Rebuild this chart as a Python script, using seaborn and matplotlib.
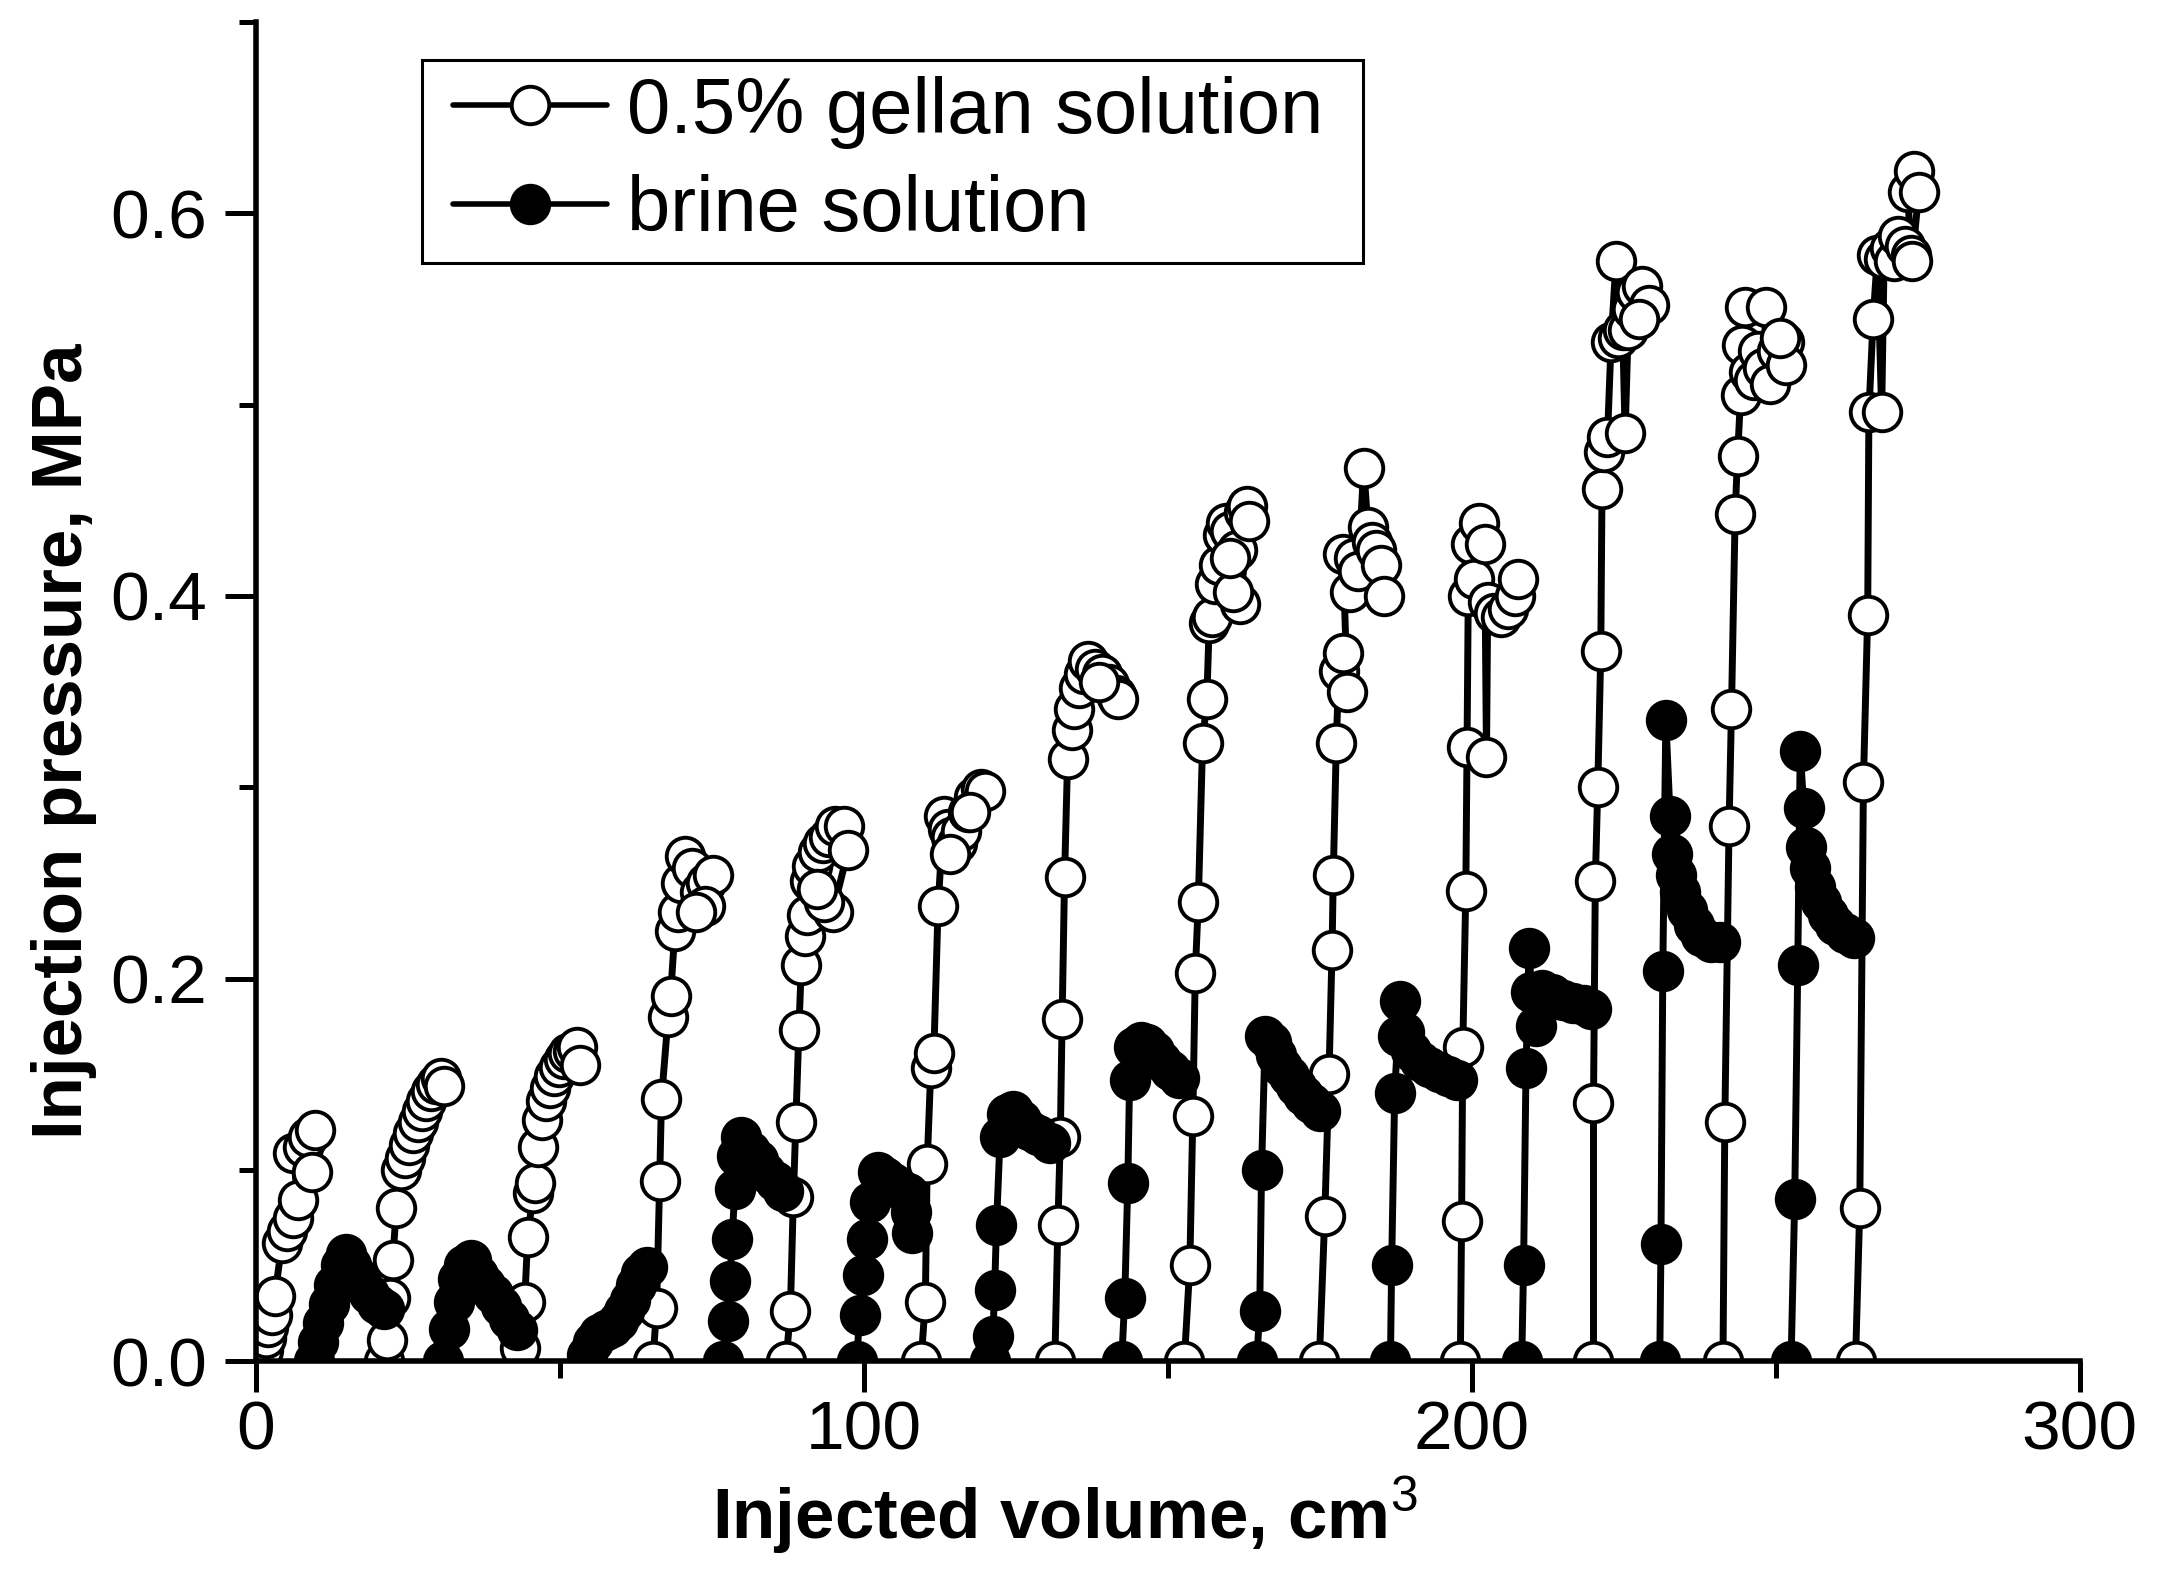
import numpy as np
import pandas as pd
import matplotlib
matplotlib.use('Agg')
import matplotlib.pyplot as plt
from matplotlib.lines import Line2D
from matplotlib.legend_handler import HandlerLine2D
from matplotlib.ticker import MultipleLocator, FormatStrFormatter
import seaborn as sns

# 0.5% gellan solution, one list per injection cycle
gellan_vol = [
    [0.9, 1.2, 1.6, 2.0, 2.6, 3.1, 4.3, 5.1, 6.1, 6.9, 6.1, 7.7, 8.6, 9.7, 9.2],
    [21.0, 21.5, 22.0, 22.5, 23.1, 23.8, 24.5, 25.2, 25.9, 26.6, 27.3, 28.0, 28.8, 29.6, 30.4, 31.0],
    [43.4, 44.2, 44.7, 45.6, 45.9, 46.4, 47.0, 47.7, 48.4, 49.1, 49.8, 50.6, 51.4, 52.2, 52.8, 53.3],
    [65.3, 65.9, 66.4, 66.7, 67.8, 68.2, 68.9, 69.4, 69.9, 70.6, 71.8, 73.0, 74.1, 75.2, 73.9, 72.4],
    [87.2, 87.9, 88.4, 88.8, 89.3, 89.7, 90.3, 90.6, 91.1, 91.5, 92.4, 93.3, 94.2, 95.3, 96.8, 97.4, 94.9, 93.4, 92.3],
    [109.4, 110.1, 110.4, 111.0, 111.5, 112.2, 113.1, 113.8, 114.4, 115.3, 116.0, 117.2, 118.1, 119.2, 119.9, 117.4, 114.2],
    [131.4, 131.9, 132.3, 132.6, 133.0, 133.5, 134.2, 134.6, 135.3, 136.2, 136.9, 138.0, 139.1, 140.3, 141.4, 141.8, 138.7],
    [152.7, 153.6, 154.1, 154.5, 155.0, 155.7, 156.4, 156.8, 157.3, 157.7, 158.4, 159.1, 159.5, 160.2, 161.3, 162.5, 163.0, 163.4, 161.8, 160.7, 160.2],
    [174.9, 175.8, 176.5, 177.0, 177.2, 177.7, 178.1, 178.8, 179.5, 178.8, 179.9, 180.6, 181.3, 182.2, 182.9, 183.6, 184.2, 185.1, 185.6],
    [198.1, 198.3, 198.5, 199.0, 199.2, 199.4, 199.9, 200.3, 201.2, 202.1, 202.4, 202.6, 203.7, 204.8, 206.0, 207.1, 207.6],
    [220.0, 220.0, 220.3, 220.7, 221.2, 221.4, 221.8, 222.3, 222.9, 223.7, 224.1, 224.8, 225.2, 225.7, 226.4, 227.0, 228.0, 229.1, 227.5],
    [241.3, 241.6, 242.3, 242.7, 243.3, 243.7, 244.2, 244.5, 244.9, 245.6, 246.4, 247.0, 247.9, 248.4, 249.0, 250.2, 251.3, 251.6, 250.6],
    [263.1, 263.8, 264.4, 265.1, 265.3, 266.0, 266.7, 267.4, 267.8, 268.7, 269.4, 270.1, 271.2, 272.2, 271.7, 272.8, 273.5, 272.4],
]
gellan_p = [
    [0.000, 0.006, 0.012, 0.018, 0.024, 0.034, 0.062, 0.068, 0.075, 0.084, 0.109, 0.112, 0.117, 0.121, 0.099],
    [0.000, 0.011, 0.033, 0.053, 0.080, 0.100, 0.106, 0.113, 0.119, 0.125, 0.131, 0.136, 0.141, 0.145, 0.148, 0.144],
    [0.007, 0.031, 0.065, 0.088, 0.093, 0.112, 0.126, 0.136, 0.143, 0.149, 0.154, 0.158, 0.161, 0.162, 0.164, 0.155],
    [0.000, 0.028, 0.094, 0.137, 0.180, 0.191, 0.225, 0.235, 0.250, 0.264, 0.258, 0.245, 0.250, 0.254, 0.238, 0.235],
    [0.000, 0.026, 0.086, 0.125, 0.173, 0.207, 0.222, 0.233, 0.251, 0.259, 0.266, 0.271, 0.274, 0.280, 0.280, 0.267, 0.235, 0.240, 0.247],
    [0.000, 0.031, 0.103, 0.153, 0.161, 0.238, 0.285, 0.278, 0.274, 0.271, 0.277, 0.287, 0.295, 0.299, 0.298, 0.287, 0.265],
    [0.000, 0.071, 0.117, 0.179, 0.253, 0.315, 0.330, 0.341, 0.352, 0.359, 0.366, 0.362, 0.359, 0.354, 0.348, 0.346, 0.355],
    [0.000, 0.050, 0.128, 0.203, 0.240, 0.323, 0.346, 0.386, 0.389, 0.406, 0.416, 0.432, 0.438, 0.434, 0.424, 0.444, 0.447, 0.439, 0.396, 0.402, 0.420],
    [0.000, 0.076, 0.150, 0.215, 0.254, 0.323, 0.361, 0.370, 0.350, 0.422, 0.402, 0.420, 0.413, 0.467, 0.436, 0.428, 0.424, 0.416, 0.400],
    [0.000, 0.073, 0.164, 0.246, 0.321, 0.400, 0.427, 0.409, 0.438, 0.427, 0.316, 0.397, 0.391, 0.389, 0.393, 0.400, 0.409],
    [0.000, 0.135, 0.251, 0.300, 0.371, 0.456, 0.475, 0.483, 0.533, 0.575, 0.535, 0.539, 0.485, 0.539, 0.550, 0.559, 0.562, 0.552, 0.545],
    [0.000, 0.125, 0.280, 0.341, 0.443, 0.473, 0.505, 0.531, 0.551, 0.517, 0.513, 0.528, 0.519, 0.551, 0.511, 0.528, 0.533, 0.521, 0.535],
    [0.000, 0.080, 0.303, 0.390, 0.496, 0.545, 0.578, 0.496, 0.576, 0.582, 0.575, 0.588, 0.583, 0.578, 0.611, 0.622, 0.611, 0.575],
]

# brine solution, one list per injection cycle
brine_vol = [
    [9.5, 10.2, 11.1, 12.0, 12.9, 14.0, 14.8, 15.6, 16.4, 17.4, 18.6, 19.9, 21.0],
    [30.8, 31.7, 32.6, 33.3, 34.2, 35.3, 36.5, 37.6, 39.0, 40.3, 41.7, 42.9],
    [54.5, 55.5, 56.5, 57.5, 58.5, 59.5, 60.5, 61.5, 62.5, 63.3, 64.3],
    [76.8, 77.6, 78.0, 78.3, 78.8, 79.1, 79.8, 81.3, 82.5, 83.8, 85.4, 86.7],
    [98.8, 99.3, 99.8, 100.5, 101.0, 102.3, 103.5, 104.8, 106.0, 107.2, 107.8, 107.9],
    [120.8, 121.2, 121.5, 121.8, 122.4, 123.5, 124.6, 125.8, 127.2, 128.6, 130.6],
    [142.4, 142.9, 143.4, 143.7, 144.4, 145.5, 146.6, 147.7, 148.9, 150.3, 151.8],
    [164.6, 165.1, 165.4, 166.0, 166.9, 167.8, 168.8, 169.9, 171.0, 172.3, 173.6, 175.0],
    [186.6, 186.8, 187.3, 187.8, 188.2, 188.9, 190.0, 191.5, 193.0, 194.6, 196.0, 197.5],
    [208.2, 208.5, 208.9, 209.4, 209.8, 210.5, 211.6, 213.2, 215.0, 216.6, 218.4, 219.6],
    [230.9, 231.1, 231.4, 231.9, 232.6, 232.9, 233.6, 234.3, 235.4, 236.6, 237.7, 239.3, 240.8],
    [252.5, 253.1, 253.6, 254.0, 254.6, 254.9, 255.6, 256.5, 257.5, 258.6, 259.8, 261.3, 262.8],
]
brine_p = [
    [0.000, 0.010, 0.020, 0.030, 0.040, 0.050, 0.056, 0.050, 0.045, 0.040, 0.035, 0.030, 0.027],
    [0.000, 0.017, 0.031, 0.043, 0.050, 0.053, 0.045, 0.040, 0.035, 0.029, 0.022, 0.016],
    [0.003, 0.010, 0.014, 0.016, 0.018, 0.021, 0.026, 0.032, 0.040, 0.046, 0.049],
    [0.000, 0.021, 0.042, 0.064, 0.090, 0.107, 0.117, 0.110, 0.105, 0.099, 0.094, 0.089],
    [0.000, 0.024, 0.045, 0.064, 0.083, 0.099, 0.096, 0.093, 0.090, 0.088, 0.078, 0.067],
    [0.000, 0.013, 0.037, 0.071, 0.117, 0.129, 0.131, 0.126, 0.121, 0.118, 0.114],
    [0.000, 0.033, 0.093, 0.147, 0.164, 0.167, 0.166, 0.162, 0.157, 0.152, 0.148],
    [0.000, 0.026, 0.100, 0.170, 0.167, 0.160, 0.154, 0.149, 0.144, 0.139, 0.135, 0.131],
    [0.000, 0.050, 0.140, 0.170, 0.188, 0.172, 0.162, 0.157, 0.154, 0.151, 0.149, 0.147],
    [0.000, 0.050, 0.153, 0.216, 0.193, 0.175, 0.194, 0.192, 0.189, 0.187, 0.186, 0.184],
    [0.000, 0.061, 0.204, 0.335, 0.285, 0.265, 0.254, 0.245, 0.236, 0.228, 0.222, 0.219, 0.219],
    [0.000, 0.085, 0.207, 0.319, 0.289, 0.269, 0.258, 0.248, 0.240, 0.233, 0.228, 0.224, 0.221],
]

labels = ['0.5% gellan solution', 'brine solution']


def cycles_frame(vols, ps):
    rows = []
    for i, (v, p) in enumerate(zip(vols, ps)):
        for a, b in zip(v, p):
            rows.append((i, a, b))
    return pd.DataFrame(rows, columns=['cycle', 'volume', 'pressure'])


gel_df = cycles_frame(gellan_vol, gellan_p)
brine_df = cycles_frame(brine_vol, brine_p)

sns.set_style('ticks')
plt.rcParams['font.family'] = ['Liberation Sans', 'DejaVu Sans']
plt.rcParams['mathtext.fontset'] = 'custom'
plt.rcParams['mathtext.rm'] = 'Liberation Sans'
for key in ['text.color', 'axes.labelcolor', 'xtick.color', 'ytick.color', 'axes.edgecolor']:
    plt.rcParams[key] = 'black'

fig = plt.figure(figsize=(10.8, 7.895), dpi=200)
ax = fig.add_axes([0.1185, 0.138, 0.8444, 0.848])

lw = 2.5
ms = 13.5
mew = 1.4

sns.lineplot(data=gel_df, x='volume', y='pressure', units='cycle', estimator=None,
             sort=False, color='black', lw=lw, marker='o', markersize=ms,
             markerfacecolor='white', markeredgecolor='black', markeredgewidth=mew,
             legend=False, ax=ax)
sns.lineplot(data=brine_df, x='volume', y='pressure', units='cycle', estimator=None,
             sort=False, color='black', lw=lw, marker='o', markersize=ms,
             markerfacecolor='black', markeredgecolor='black', markeredgewidth=mew,
             legend=False, ax=ax)

ax.set_xlim(0, 300)
ax.set_ylim(0, 0.7)
ax.xaxis.set_major_locator(MultipleLocator(100))
ax.xaxis.set_minor_locator(MultipleLocator(50))
ax.yaxis.set_major_locator(MultipleLocator(0.2))
ax.yaxis.set_minor_locator(MultipleLocator(0.1))
ax.yaxis.set_major_formatter(FormatStrFormatter('%.1f'))

for side in ['top', 'right']:
    ax.spines[side].set_visible(False)
for side in ['left', 'bottom']:
    ax.spines[side].set_linewidth(2.0)
    ax.spines[side].set_color('black')

ax.tick_params(which='major', direction='out', length=11, width=1.8, labelsize=25, colors='black')
ax.tick_params(which='minor', direction='out', length=6, width=1.8, colors='black')
ax.tick_params(axis='x', which='major', pad=3)
ax.tick_params(axis='y', which='major', pad=6.5)

ax.set_xlabel('Injected volume, cm$^{3}$', fontsize=25.5, fontweight='bold', color='black')
ax.set_ylabel('Injection pressure, MPa', fontsize=25.5, fontweight='bold', color='black')
ax.xaxis.set_label_coords(0.4435, -0.085)
ax.yaxis.set_label_coords(-0.087, 0.463)

handles = [
    Line2D([], [], color='black', lw=2.0, marker='o', ms=ms, mfc='white', mec='black', mew=mew),
    Line2D([], [], color='black', lw=2.0, marker='o', ms=ms, mfc='black', mec='black', mew=mew),
]
leg = ax.legend(handles, labels, loc='upper left',
                bbox_to_anchor=(0.091, 0.9716 - 0.15, 0.5159, 0.15), mode='expand',
                borderaxespad=0, fontsize=28, frameon=True, fancybox=False,
                edgecolor='black', framealpha=1, handlelength=2.18, handletextpad=0.26,
                borderpad=0.2, labelspacing=0.33, numpoints=1,
                handler_map={Line2D: HandlerLine2D(xpad=0.2)})
leg.get_frame().set_linewidth(1.1)
for t in leg.get_texts():
    t.set_color('black')

fig.savefig('out.png', dpi=200)
